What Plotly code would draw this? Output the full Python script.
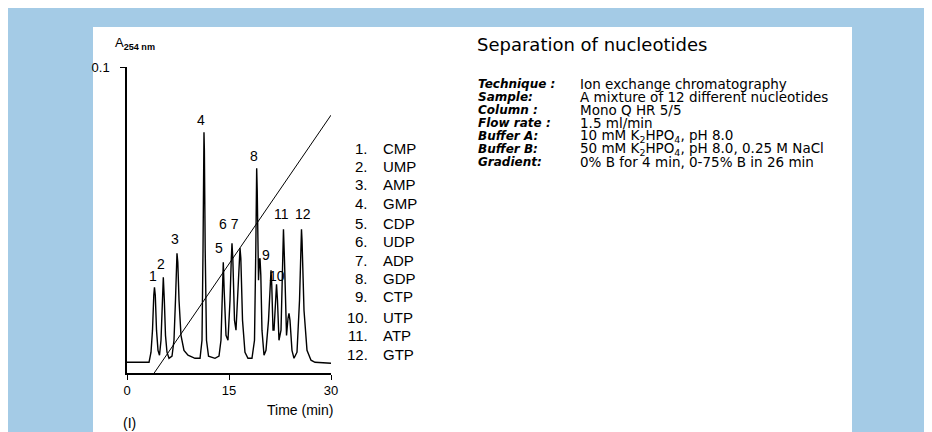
import plotly.graph_objects as go

# chromatogram trace (time in min, absorbance at 254 nm)
time_min = [0, 3.24, 3.53, 3.75, 3.94, 4.04, 4.16, 4.34, 4.56, 4.78,
            5.0, 5.19, 5.34, 5.49, 5.66, 5.88, 6.18, 6.62, 6.91, 7.13,
            7.28, 7.35, 7.47, 7.65, 7.94, 8.38, 8.97, 10.0, 10.74, 11.03,
            11.18, 11.28, 11.32, 11.38, 11.5, 11.69, 11.99, 12.94, 13.53, 13.82,
            14.04, 14.16, 14.29, 14.56, 14.85, 15.15, 15.34, 15.44, 15.56, 15.81,
            16.03, 16.32, 16.51, 16.62, 16.74, 16.99, 17.35, 17.79, 18.38, 18.75,
            18.94, 19.04, 19.07, 19.15, 19.34, 19.46, 19.56, 19.68, 19.85, 20.15,
            20.44, 20.81, 21.06, 21.18, 21.29, 21.47, 21.62, 21.84, 21.99, 22.13,
            22.35, 22.65, 22.87, 23.01, 23.16, 23.46, 23.68, 23.82, 23.97, 24.26,
            24.56, 25.0, 25.37, 25.59, 25.66, 25.74, 26.03, 26.47, 27.06, 27.65,
            30.0]
absorbance = [0.0035, 0.0035, 0.0068, 0.0140, 0.0254, 0.0280, 0.0254, 0.0140, 0.0074, 0.0058,
              0.0107, 0.0238, 0.0313, 0.0238, 0.0123, 0.0068, 0.0048, 0.0055, 0.0107, 0.0238,
              0.0362, 0.0391, 0.0362, 0.0238, 0.0123, 0.0074, 0.0058, 0.0048, 0.0048, 0.0107,
              0.0401, 0.0728, 0.0787, 0.0728, 0.0401, 0.0107, 0.0055, 0.0048, 0.0055, 0.0107,
              0.0270, 0.0362, 0.0270, 0.0123, 0.0107, 0.0238, 0.0375, 0.0424, 0.0375, 0.0172,
              0.0140, 0.0270, 0.0375, 0.0408, 0.0375, 0.0172, 0.0068, 0.0048, 0.0048, 0.0107,
              0.0401, 0.0630, 0.0669, 0.0597, 0.0303, 0.0368, 0.0375, 0.0319, 0.0140, 0.0058,
              0.0074, 0.0172, 0.0287, 0.0336, 0.0287, 0.0140, 0.0140, 0.0244, 0.0290, 0.0238,
              0.0107, 0.0140, 0.0368, 0.0470, 0.0368, 0.0123, 0.0179, 0.0195, 0.0172, 0.0074,
              0.0048, 0.0068, 0.0238, 0.0434, 0.0470, 0.0434, 0.0205, 0.0074, 0.0042, 0.0035,
              0.0032]

# gradient: 0 % B for 4 min, then 0-75 % B in 26 min
gradient_time = [4, 30]
gradient_b = [0, 75]

peak_labels = ["1", "2", "3", "4", "5", "6 7", "8", "9", "10", "11", "12"]
peak_label_t = [3.82, 5.07, 6.99, 10.88, 13.53, 15.0, 18.68, 20.44, 22.06, 22.79, 25.88]
peak_label_a = [0.0316, 0.0355, 0.0437, 0.0826, 0.0408, 0.0486, 0.0708, 0.0385, 0.0316, 0.0519, 0.0519]

legend_nums = ["1.", "2.", "3.", "4.", "5.", "6.", "7.", "8.", "9.", "10.", "11.", "12."]
legend_names = ["CMP", "UMP", "AMP", "GMP", "CDP", "UDP", "ADP", "GDP", "CTP", "UTP", "ATP", "GTP"]

info_keys = ["Technique :", "Sample:", "Column :", "Flow rate :", "Buffer A:", "Buffer B:", "Gradient:"]
info_values = [
    "Ion exchange chromatography",
    "A mixture of 12 different nucleotides",
    "Mono Q HR 5/5",
    "1.5 ml/min",
    "10 mM K<sub>2</sub>HPO<sub>4</sub>, pH 8.0",
    "50 mM K<sub>2</sub>HPO<sub>4</sub>, pH 8.0, 0.25 M NaCl",
    "0% B for 4 min, 0-75% B in 26 min",
]

FONT = "Liberation Sans, Arial, sans-serif"
WIDE = "DejaVu Sans, Liberation Sans, sans-serif"
W, H = 932, 432
OFF = 8  # page margin around the figure
L, R, T, B = 119, 323, 59, 365


def px_x(sx):
    return (sx - OFF - L) / (R - L)


def px_y(sy):
    return (B - (sy - OFF)) / (B - T)


def note(sx, sy, text, size, family=FONT, xanchor="center"):
    return dict(x=px_x(sx), y=px_y(sy), xref="paper", yref="paper", text=text,
                showarrow=False, xanchor=xanchor, yanchor="middle",
                font=dict(size=size, color="black", family=family))


fig = go.Figure()
fig.add_trace(go.Scatter(x=time_min, y=absorbance, mode="lines",
                         line=dict(color="black", width=1.4), hoverinfo="skip"))
fig.add_trace(go.Scatter(x=gradient_time, y=gradient_b, mode="lines", yaxis="y2",
                         line=dict(color="black", width=1), hoverinfo="skip"))

annotations = []
for txt, t, a in zip(peak_labels, peak_label_t, peak_label_a):
    annotations.append(dict(x=t, y=a, xref="x", yref="y", text=txt, showarrow=False,
                            xanchor="center", yanchor="middle",
                            font=dict(size=14, color="black", family=FONT)))

legend_y = [148, 166.7, 184.3, 203.3, 223.3, 241.7, 260, 278.3, 296.7, 317.7, 335, 354]
for num, name, y in zip(legend_nums, legend_names, legend_y):
    annotations.append(note(370, y, num, 15, xanchor="right"))
    annotations.append(note(381, y, name, 15, xanchor="left"))

annotations.append(note(475, 44, "Separation of nucleotides", 18, family=WIDE, xanchor="left"))
info_y = [84, 97, 110, 123, 136, 149, 162]
for key, val, y in zip(info_keys, info_values, info_y):
    annotations.append(note(476, y, "<b><i>" + key + "</i></b>", 12, family=WIDE, xanchor="left"))
    annotations.append(note(578, y, val, 13.5, family=WIDE, xanchor="left"))

annotations.append(note(113, 43, "A<sub><b>254 nm</b></sub>", 13, xanchor="left"))
annotations.append(note(335, 410, "Time (min)", 14, xanchor="right"))
annotations.append(note(129, 423, "(I)", 14))

shapes = [
    # white panel on the blue background
    dict(type="rect", xref="paper", yref="paper", layer="below",
         x0=px_x(93), x1=px_x(852), y0=px_y(450), y1=px_y(27),
         fillcolor="white", line=dict(width=0)),
]

fig.update_layout(
    width=W, height=H,
    margin=dict(l=L, r=W - R, t=T, b=H - B, pad=0),
    paper_bgcolor="#A4CBE6",
    plot_bgcolor="white",
    showlegend=False,
    font=dict(family=FONT, color="black"),
    xaxis=dict(range=[0, 30], showgrid=False, zeroline=False, showline=True,
               linecolor="black", linewidth=1.5, ticks="outside", ticklen=5,
               tickcolor="black", tickwidth=1.2, tickvals=[0, 15, 30],
               ticktext=["0", "15", "30"], tickfont=dict(size=13, family=FONT)),
    yaxis=dict(range=[0, 0.1], showgrid=False, zeroline=False, showline=True,
               linecolor="black", linewidth=1.5, ticks="outside", ticklen=5,
               tickcolor="black", tickwidth=1.2, tickvals=[0.1], ticktext=["0.1"],
               tickfont=dict(size=13, family=FONT), ticklabelstandoff=8),
    yaxis2=dict(range=[0, 89], overlaying="y", visible=False),
    annotations=annotations,
    shapes=shapes,
)

fig.write_html("out.html")
